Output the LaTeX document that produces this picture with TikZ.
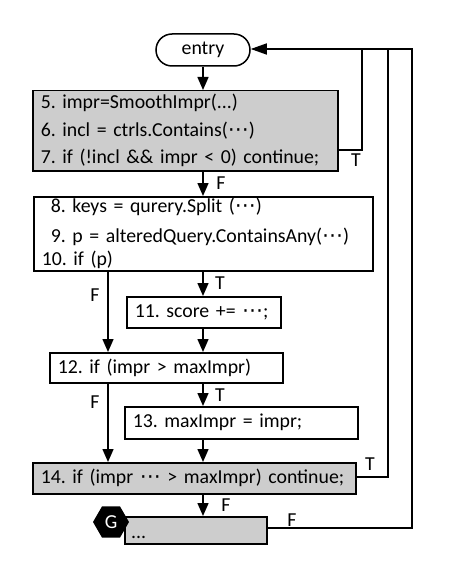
\documentclass[tikz,border=0pt]{standalone}
\usepackage{fontspec}
\setmainfont{Carlito}
\newfontfamily\dotsfont{DejaVu Sans}
\newcommand{\mydots}{{\dotsfont\fontsize{21}{24}\selectfont ⋯}}
\usetikzlibrary{arrows.meta,shapes.geometric}
\definecolor{boxgray}{RGB}{205,205,205}
\frenchspacing
\begin{document}
\begin{tikzpicture}[x=1pt,y=-1pt,
  every node/.style={font=\fontsize{19.8}{27.5}\selectfont},
  box/.style={draw, line width=1.5pt, anchor=north west, align=left,
    inner xsep=8pt, inner ysep=0pt},
  grayb/.style={box, fill=boxgray},
  arr/.style={line width=1.5pt, -{Triangle[length=13pt,width=11pt]}},
  ln/.style={line width=1.5pt},
  lab/.style={inner sep=0pt}]
\useasboundingbox (0,0) rectangle (474,580);

\node[draw, line width=1.5pt, rounded corners=16pt, minimum width=94pt,
  minimum height=32pt, inner sep=0pt] (entry) at (203,50) {entry};

\node[grayb, text width=289pt, minimum height=80pt] (b1) at (32,90)
  {\mbox{5. impr=SmoothImpr(...)}\\ \mbox{6. incl = ctrls.Contains(\mydots)}\\ \mbox{7. if (!incl \&\& impr < 0) continue;}};

\node[box, text width=323pt, minimum height=74pt] (b2) at (33,196)
  {\mbox{\hspace*{9pt}8. keys = qurery.Split (\mydots)}\\[2.5pt]
   \mbox{\hspace*{9pt}9. p = alteredQuery.ContainsAny(\mydots)}\\[-4.5pt]
   \mbox{10. if (p)}};

\node[box, text width=138pt, minimum height=31pt] (b3) at (126,296) {\mbox{11. score += \mydots;}};
\node[box, text width=217pt, minimum height=30pt] (b4) at (49,352) {\mbox{12. if (impr > maxImpr)}};
\node[box, text width=217pt, minimum height=32pt] (b5) at (124,406) {\mbox{13. maxImpr = impr;}};
\node[grayb, text width=307pt, minimum height=31pt] (b6) at (32,462) {\mbox{14. if (impr \mydots{} > maxImpr) continue;}};
\node[grayb, text width=126pt, minimum height=27pt] (b7) at (124,516) {};
\node[lab, anchor=base west] (b7t) at (131,538) {...};
\node[regular polygon, regular polygon sides=6, fill=black, minimum size=36pt,
  inner sep=0pt, text=white] (g) at (111,522) {G};

% column coordinates
\coordinate (c1) at (203,0);
\coordinate (cf) at (108,0);
\coordinate (r1) at (362,49);
\coordinate (r2) at (388,49);
\coordinate (r3) at (412,49);

\draw[arr] (entry.south) -- (entry.south |- b1.north);
\draw[arr] (c1 |- b1.south) -- (c1 |- b2.north);
\draw[arr] (c1 |- b2.south) -- (c1 |- b3.north);
\draw[arr] (c1 |- b3.south) -- (c1 |- b4.north);
\draw[arr] (c1 |- b4.south) -- (c1 |- b5.north);
\draw[arr] (c1 |- b5.south) -- (c1 |- b6.north);
\draw[arr] (c1 |- b6.south) -- (c1 |- b7.north);
\draw[arr] (cf |- b2.south) -- (cf |- b4.north);
\draw[arr] (cf |- b4.south) -- (cf |- b6.north);

\coordinate (o1) at (337,150);
\coordinate (o6) at (355,477);
\coordinate (o7) at (266,528);
\draw[ln] (o1) -- (r1 |- o1) -- (r1);
\draw[ln] (o6) -- (r2 |- o6) -- (r2);
\draw[ln] (o7) -- (r3 |- o7) -- (r3) -- (r1);
\draw[line width=1.5pt, -{Triangle[length=16pt,width=11pt]}] (r1) -- (entry.east |- r1);

\node[lab] (t1) at (356,160) {T};
\node[lab] (f1) at (221,183) {F};
\node[lab] (t2) at (220,283) {T};
\node[lab] (f2) at (95,295) {F};
\node[lab] (t4) at (220,395) {T};
\node[lab] (f4) at (95,402) {F};
\node[lab] (t6) at (370,464) {T};
\node[lab] (f6) at (226,505) {F};
\node[lab] (f7) at (292,520) {F};
\end{tikzpicture}
\end{document}
